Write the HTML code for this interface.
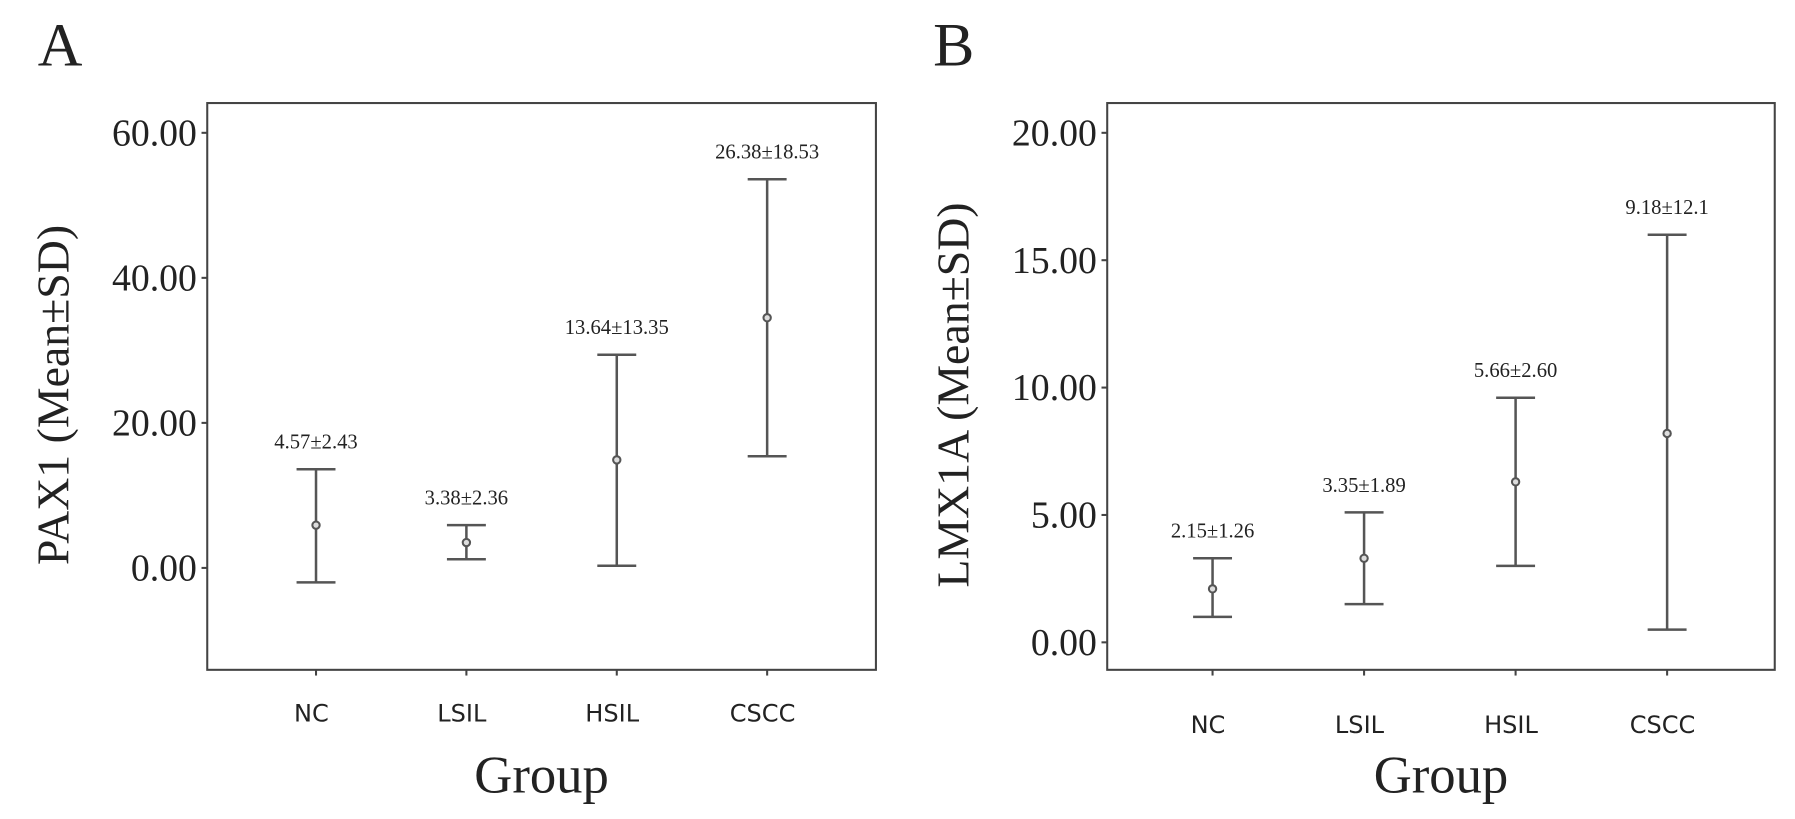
<!DOCTYPE html>
<html><head><meta charset="utf-8"><style>
body{margin:0;background:#fff;}
svg{display:block;}
.serif{font-family:"Liberation Serif",serif;fill:#222;}
.sans{font-family:"DejaVu Sans","Liberation Sans",sans-serif;fill:#222;}
</style></head><body>
<svg id="c" width="1795" height="819" viewBox="0 0 1795 819" xmlns="http://www.w3.org/2000/svg"><g id="root" transform="scale(1.145)"></g></svg>
<script>
const categories = ["NC","LSIL","HSIL","CSCC"];
const meanA = [5.9, 3.5, 14.9, 34.5];
const upperA = [13.6, 5.9, 29.4, 53.6];
const lowerA = [-2.0, 1.2, 0.3, 15.4];
const labelsA = ["4.57±2.43","3.38±2.36","13.64±13.35","26.38±18.53"];
const ticksA = [0, 20, 40, 60];
const meanB = [2.1, 3.3, 6.3, 8.2];
const upperB = [3.3, 5.1, 9.6, 16.0];
const lowerB = [1.0, 1.5, 3.0, 0.5];
const labelsB = ["2.15±1.26","3.35±1.89","5.66±2.60","9.18±12.1"];
const ticksB = [0, 5, 10, 15, 20];

const root = document.getElementById('root');
const NS = "http://www.w3.org/2000/svg";
function mk(tag, attrs, parent){const e=document.createElementNS(NS,tag);for(const k in attrs)e.setAttribute(k,attrs[k]);(parent||root).appendChild(e);return e;}

function panel(p){
  const g = mk('g',{});
  
  
  const y = v => p.y0 + (v - p.v0) * (p.y1 - p.y0) / (p.v1 - p.v0);
  const x = i => p.xs[0] + i * (p.xs[1] - p.xs[0]) / (categories.length - 1);
  const fr = mk('rect',{x:p.fx0,y:p.fy0,width:p.fx1-p.fx0,height:p.fy1-p.fy0,fill:'none',stroke:'#444','stroke-width':1.8},g);
  
  
  p.ticks.forEach(t=>{
    const tk = mk('line',{x1:p.fx0-5,x2:p.fx0,y1:y(t),y2:y(t),stroke:'#444','stroke-width':1.8},g);
    
    
    const tl = mk('text',{x:p.fx0-9,y:y(t)+11,'text-anchor':'end','font-size':33,class:'serif'},g);
    tl.textContent = t.toFixed(2);
    
    
  });
  categories.forEach((c,i)=>{
    const cx = x(i);
    const xtk = mk('line',{x1:cx,x2:cx,y1:p.fy1,y2:p.fy1+5,stroke:'#444','stroke-width':1.8},g);
    
    
    const bg = mk('g',{stroke:'#555','stroke-width':2.2,fill:'none'},g);
    
    
    mk('line',{x1:cx,x2:cx,y1:y(p.up[i]),y2:y(p.lo[i])},bg);
    mk('line',{x1:cx-17,x2:cx+17,y1:y(p.up[i]),y2:y(p.up[i])},bg);
    mk('line',{x1:cx-17,x2:cx+17,y1:y(p.lo[i]),y2:y(p.lo[i])},bg);
    const pt = mk('circle',{cx:cx,cy:y(p.mean[i]),r:3.2,fill:'#ddd',stroke:'#555','stroke-width':1.8},g);
    
    
    const vl = mk('text',{x:cx,y:y(p.up[i])-18,'text-anchor':'middle','font-size':18,class:'serif'},g);
    vl.textContent = p.labels[i];
    
    
    const cl = mk('text',{x:cx-4,y:p.catY,'text-anchor':'middle','font-size':21,class:'sans'},g);
    cl.textContent = c;
    
    
  });
  const xt = mk('text',{x:(p.fx0+p.fx1)/2,y:p.groupY,'text-anchor':'middle','font-size':46,class:'serif'},g);
  xt.textContent = 'Group';
  
  
  const yt = mk('text',{x:0,y:0,'text-anchor':'middle','font-size':40,class:'serif',transform:`translate(${p.ytX},${p.ytY}) rotate(-90)`},g);
  yt.textContent = p.ytitle;
  
  
  const pl = mk('text',{x:p.letterX,y:57,'font-size':54,class:'serif'},g);
  pl.textContent = p.letter;
  
  
}

panel({id:'pax1',fx0:181,fx1:765,fy0:90,fy1:585,v0:0,v1:60,y0:496,y1:116,xs:[276,670],
  ticks:ticksA,mean:meanA,up:upperA,lo:lowerA,labels:labelsA,catY:630,groupY:692,
  ytitle:'PAX1 (Mean±SD)',ytX:60,ytY:345,letter:'A',letterX:33});
panel({id:'lmx1a',fx0:967,fx1:1550,fy0:90,fy1:585,v0:0,v1:20,y0:561,y1:116,xs:[1059,1456],
  ticks:ticksB,mean:meanB,up:upperB,lo:lowerB,labels:labelsB,catY:640,groupY:692,
  ytitle:'LMX1A (Mean±SD)',ytX:846,ytY:345,letter:'B',letterX:815});
</script>
</body></html>
